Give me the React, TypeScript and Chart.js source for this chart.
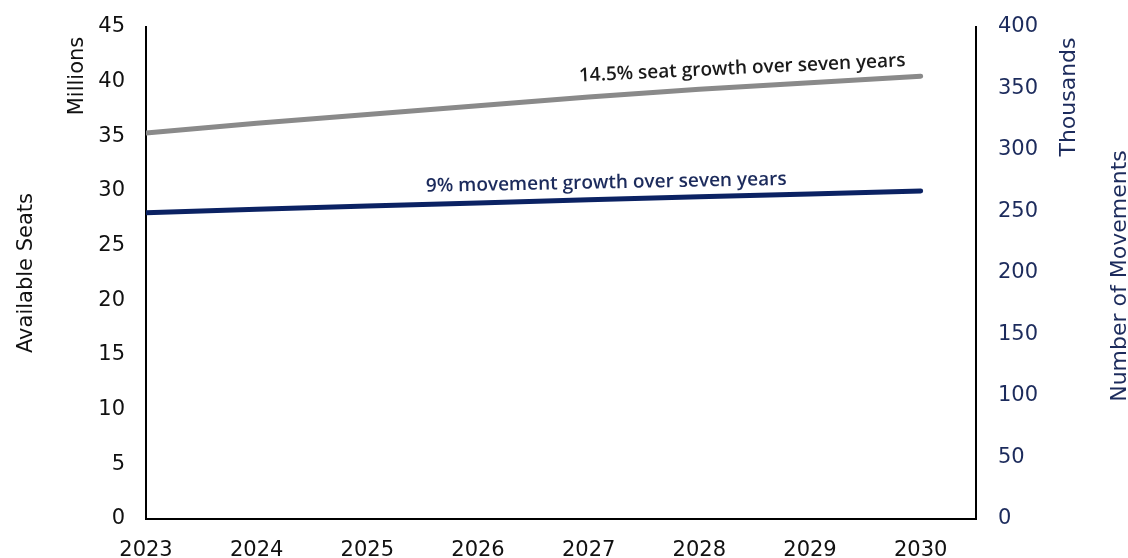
import React, { useEffect, useRef } from "react";
import { Chart, registerables } from "chart.js";

Chart.register(...registerables);

const years = [2023, 2024, 2025, 2026, 2027, 2028, 2029, 2030];
const seatsMillions = [35.3, 36.2, 37.0, 37.8, 38.6, 39.3, 39.9, 40.5];
const movementsThousands = [249, 251.8, 254.5, 257, 259.5, 262, 264.3, 266.7];
const yearLabels = ["2023", "2024", "2025", "2026", "2027", "2028", "2029", "2030"];
const annotationTexts = [
  "14.5% seat growth over seven years",
  "9% movement growth over seven years",
];
const annotationYears = [2028.39, 2027.16];

const GRAY = "#8a8a8a";
const NAVY = "#0b2263";
const NAVY_TEXT = "#1c2b5c";
const FONT = "'DejaVu Sans', sans-serif";

function interp(xs: number[], ys: number[], x: number) {
  for (let i = 0; i < xs.length - 1; i++) {
    if (x >= xs[i] && x <= xs[i + 1]) {
      const t = (x - xs[i]) / (xs[i + 1] - xs[i]);
      return ys[i] + t * (ys[i + 1] - ys[i]);
    }
  }
  return ys[ys.length - 1];
}

const textPlugin = {
  id: "textPlugin",
  afterDraw(chart: any) {
    const { ctx, chartArea, scales } = chart;
    const midY = (chartArea.top + chartArea.bottom) / 2;
    const drawRot = (text: string, x: number, y: number, color: string, size: number) => {
      ctx.save();
      ctx.translate(x, y);
      ctx.rotate(-Math.PI / 2);
      ctx.font = `${size}px ${FONT}`;
      ctx.fillStyle = color;
      ctx.textAlign = "center";
      ctx.textBaseline = "alphabetic";
      ctx.fillText(text, 0, 0);
      ctx.restore();
    };
    drawRot("Millions", chartArea.left - 63, chartArea.top + 49, "#111", 21);
    drawRot("Available Seats", chartArea.left - 114, midY, "#111", 21);
    drawRot("Thousands", chartArea.right + 99, chartArea.top + 70, NAVY_TEXT, 22);
    drawRot("Number of Movements", chartArea.right + 150, midY + 3, NAVY_TEXT, 22);

    const x = scales.x;
    const items = [
      { text: annotationTexts[0], yr: annotationYears[0], scale: scales.y, data: seatsMillions, off: 13, ang: -2.7, color: "#1a1a1a" },
      { text: annotationTexts[1], yr: annotationYears[1], scale: scales.y1, data: movementsThousands, off: 11, ang: -1.1, color: NAVY_TEXT },
    ];
    items.forEach((it) => {
      const px = x.getPixelForValue(it.yr);
      const py = it.scale.getPixelForValue(interp(years, it.data, it.yr)) - it.off;
      ctx.save();
      ctx.translate(px, py);
      ctx.rotate((it.ang * Math.PI) / 180);
      ctx.font = `600 19px 'Open Sans', sans-serif`;
      ctx.fillStyle = it.color;
      ctx.textAlign = "center";
      ctx.textBaseline = "alphabetic";
      ctx.fillText(it.text, 0, 0);
      ctx.restore();
    });
  },
};

export default function App() {
  const ref = useRef<HTMLCanvasElement>(null);
  useEffect(() => {
    if (!ref.current) return;
    const chart = new Chart(ref.current, {
      type: "line",
      data: {
        datasets: [
          {
            label: "Available Seats",
            data: years.map((y, i) => ({ x: y, y: seatsMillions[i] })),
            borderColor: GRAY,
            borderWidth: 5,
            borderCapStyle: "round",
            pointRadius: 0,
            tension: 0,
            yAxisID: "y",
          },
          {
            label: "Number of Movements",
            data: years.map((y, i) => ({ x: y, y: movementsThousands[i] })),
            borderColor: NAVY,
            borderWidth: 5,
            borderCapStyle: "round",
            pointRadius: 0,
            tension: 0,
            yAxisID: "y1",
          },
        ],
      },
      options: {
        responsive: false,
        animation: false,
        layout: { padding: { top: 27, left: 0, right: 0, bottom: 0 } },
        plugins: { legend: { display: false }, tooltip: { enabled: false } },
        scales: {
          x: {
            type: "linear",
            min: 2023,
            max: 2030.5,
            grid: { display: false, drawTicks: false },
            border: { display: true, color: "#000", width: 2 },
            afterBuildTicks: (s: any) => {
              s.ticks = years.map((v) => ({ value: v }));
            },
            afterFit: (s: any) => {
              s.height = 39;
            },
            ticks: {
              padding: 19,
              color: "#111",
              font: { family: FONT, size: 21 },
              maxRotation: 0,
              autoSkip: false,
              callback: (v: any) => {
                const i = years.indexOf(Number(v));
                return i >= 0 ? yearLabels[i] : "";
              },
            },
          },
          y: {
            position: "left",
            min: 0,
            max: 45,
            grid: { display: false, drawTicks: false },
            border: { display: true, color: "#000", width: 2 },
            afterFit: (s: any) => {
              s.width = 146;
              s.paddingTop = 0;
              s.paddingBottom = 0;
            },
            ticks: {
              stepSize: 5,
              padding: 21,
              color: "#111",
              font: { family: FONT, size: 21 },
            },
          },
          y1: {
            position: "right",
            min: 0,
            max: 400,
            grid: { display: false, drawTicks: false },
            border: { display: true, color: "#000", width: 2 },
            afterFit: (s: any) => {
              s.width = 152;
              s.paddingTop = 0;
              s.paddingBottom = 0;
            },
            ticks: {
              stepSize: 50,
              padding: 22,
              color: NAVY_TEXT,
              font: { family: FONT, size: 21 },
            },
          },
        },
      },
      plugins: [textPlugin],
    } as any);
    return () => chart.destroy();
  }, []);
  return (
    <div style={{ position: "absolute", left: 0, top: 0, width: 1128, height: 558, background: "#fff" }}>
      <canvas ref={ref} width={1128} height={558} style={{ display: "block" }} />
    </div>
  );
}
